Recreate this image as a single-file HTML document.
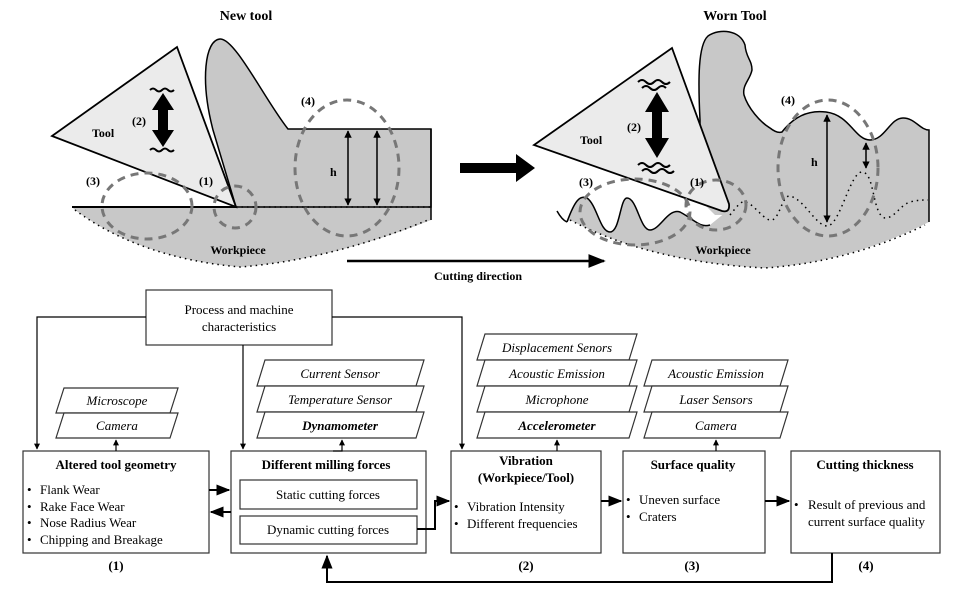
<!DOCTYPE html>
<html><head><meta charset="utf-8"><style>
html,body{margin:0;padding:0;background:#fff}
svg{display:block}
text{font-family:"Liberation Serif",serif;fill:#000}
.b{font-weight:bold}
.it{font-style:italic}
</style></head><body>
<svg width="967" height="592" viewBox="0 0 967 592" xmlns="http://www.w3.org/2000/svg">
<defs>
<marker id="a" viewBox="0 0 10 10" refX="9" refY="5" markerWidth="7" markerHeight="7" orient="auto-start-reverse"><path d="M0,1 L10,5 L0,9 Z" fill="#000"/></marker>
<marker id="s" viewBox="0 0 10 10" refX="9" refY="5" markerWidth="5" markerHeight="5" orient="auto-start-reverse"><path d="M0,0 L10,5 L0,10 Z" fill="#000"/></marker>
</defs>

<!-- NEW TOOL -->
<text x="246" y="20" font-size="14" class="b" text-anchor="middle">New tool</text>
<path d="M72,207 L236,207 L431,207 L431,220 Q330,260 240,267 Q140,258 75,210 Z" fill="#c8c8c8"/>
<path d="M75,210 Q140,258 240,267 Q330,260 428,220" fill="none" stroke="#000" stroke-width="1.5" stroke-dasharray="1.5,4"/>
<path d="M236,207 L213,130 C200,80 205,40 220,39 C235,38 265,100 288,129 L431,129 L431,207 Z" fill="#c8c8c8" stroke="#000" stroke-width="1.5"/>
<line x1="236" y1="207" x2="431" y2="207" stroke="#000" stroke-width="1.5" stroke-dasharray="1.5,4"/>
<line x1="431" y1="129" x2="431" y2="220" stroke="#000" stroke-width="1.5"/>
<line x1="72" y1="207" x2="236" y2="207" stroke="#000" stroke-width="2"/>
<polygon points="52,136 177,47 236,207" fill="#ebebeb" stroke="#000" stroke-width="1.8"/>
<polygon points="163,93 174,110 168,110 168,130 174,130 163,147 152,130 158,130 158,110 152,110" fill="#000"/>
<path d="M150,90 q3,-3 6,0 t6,0 t6,0 t6,0" fill="none" stroke="#000" stroke-width="2"/>
<path d="M150,150 q3,-3 6,0 t6,0 t6,0 t6,0" fill="none" stroke="#000" stroke-width="2"/>
<g fill="none" stroke="#777" stroke-width="3" stroke-dasharray="8,6">
<ellipse cx="147" cy="206" rx="45" ry="33"/>
<ellipse cx="235" cy="207" rx="21" ry="21"/>
<ellipse cx="347" cy="168" rx="52" ry="68"/>
</g>
<line x1="348" y1="131" x2="348" y2="205" stroke="#000" stroke-width="1.5" marker-start="url(#s)" marker-end="url(#s)"/>
<line x1="377" y1="131" x2="377" y2="205" stroke="#000" stroke-width="1.5" marker-start="url(#s)" marker-end="url(#s)"/>
<g font-size="12" class="b">
<text x="330" y="176" class="b">h</text>
<text x="92" y="137" class="b">Tool</text>
<text x="132" y="125" class="b">(2)</text>
<text x="86" y="185" class="b">(3)</text>
<text x="199" y="185" class="b">(1)</text>
<text x="301" y="105" class="b">(4)</text>
<text x="238" y="254" class="b" text-anchor="middle">Workpiece</text>
</g>

<polygon points="460,163 516,163 516,154 535,168 516,182 516,173 460,173" fill="#000"/>
<line x1="347" y1="261" x2="604" y2="261" stroke="#000" stroke-width="2.5" marker-end="url(#a)"/>
<text x="478" y="280" font-size="12" class="b" text-anchor="middle">Cutting direction</text>

<!-- WORN TOOL -->
<text x="735" y="20" font-size="14" class="b" text-anchor="middle">Worn Tool</text>
<path d="M567,222 C575,200 580,195 587,198 C597,205 600,232 610,232 C620,232 620,198 627,198 C637,198 640,230 650,230 C660,230 668,208 680,212 C695,220 700,228 710,225 L726,212 L929,215 L929,222 Q850,262 765,268 Q650,262 570,220 Z" fill="#c8c8c8"/>
<path d="M557,211 Q562,220 567,222" fill="none" stroke="#000" stroke-width="1.5"/>
<path d="M567,222 C575,200 580,195 587,198 C597,205 600,232 610,232 C620,232 620,198 627,198 C637,198 640,230 650,230 C660,230 668,208 680,212 C695,220 700,228 710,225" fill="none" stroke="#000" stroke-width="1.5"/>
<path d="M570,220 Q650,262 765,268 Q850,262 925,225" fill="none" stroke="#000" stroke-width="1.5" stroke-dasharray="1.5,4"/>
<path d="M715,215 L700,200 L700,120 C698,80 698,45 708,36 C720,28 740,30 745,45 C746,58 752,60 752,70 C750,80 742,85 744,95 C748,108 760,122 770,128 C775,132 779,133 782,132 C795,115 810,110 826,112 C850,115 855,140 870,140 C885,140 890,118 903,118 C915,118 920,130 929,130 L929,222 L725,215 Z" fill="#c8c8c8"/>
<path d="M700,200 L700,120 C698,80 698,45 708,36 C720,28 740,30 745,45 C746,58 752,60 752,70 C750,80 742,85 744,95 C748,108 760,122 770,128 C775,132 779,133 782,132 C795,115 810,110 826,112 C850,115 855,140 870,140 C885,140 890,118 903,118 C915,118 920,130 929,130 L929,222" fill="none" stroke="#000" stroke-width="1.5"/>
<path d="M730,215 C738,205 742,200 746,202 C755,205 765,222 772,220 C780,218 782,195 790,196 C805,200 815,225 827,226 C840,226 850,172 862,172 C875,172 872,215 885,218 C895,218 900,205 910,202 C918,200 922,200 928,200" fill="none" stroke="#000" stroke-width="1.5" stroke-dasharray="1.5,4"/>
<path d="M534,145 L672,48 L729,204 Q730,213 722,211 Z" fill="#ebebeb" stroke="#000" stroke-width="1.8"/>
<polygon points="657,92 669,112 662,112 662,138 669,138 657,158 645,138 652,138 652,112 645,112" fill="#000"/>
<path d="M638,82 q4,-4 8,0 t8,0 t8,0 t8,0 M642,88 q4,-4 8,0 t8,0 t8,0" fill="none" stroke="#000" stroke-width="2"/>
<path d="M638,165 q4,-4 8,0 t8,0 t8,0 t8,0 M642,171 q4,-4 8,0 t8,0 t8,0 t8,0" fill="none" stroke="#000" stroke-width="2"/>
<g fill="none" stroke="#777" stroke-width="3" stroke-dasharray="8,6">
<ellipse cx="635" cy="212" rx="55" ry="33"/>
<ellipse cx="716" cy="205" rx="30" ry="25"/>
<ellipse cx="828" cy="168" rx="50" ry="68"/>
</g>
<line x1="827" y1="115" x2="827" y2="222" stroke="#000" stroke-width="1.5" marker-start="url(#s)" marker-end="url(#s)"/>
<line x1="866" y1="143" x2="866" y2="168" stroke="#000" stroke-width="1.5" marker-start="url(#s)" marker-end="url(#s)"/>
<g font-size="12">
<text x="811" y="166" class="b">h</text>
<text x="580" y="144" class="b">Tool</text>
<text x="627" y="131" class="b">(2)</text>
<text x="579" y="186" class="b">(3)</text>
<text x="690" y="186" class="b">(1)</text>
<text x="781" y="104" class="b">(4)</text>
<text x="723" y="254" class="b" text-anchor="middle">Workpiece</text>
</g>

<!-- FLOWCHART -->
<g fill="#fff" stroke="#333" stroke-width="1.2">
<rect x="146" y="290" width="186" height="55"/>
<rect x="23" y="451" width="186" height="102"/>
<rect x="231" y="451" width="195" height="102"/>
<rect x="240" y="480" width="177" height="29"/>
<rect x="240" y="516" width="177" height="28"/>
<rect x="451" y="451" width="150" height="102"/>
<rect x="623" y="451" width="142" height="102"/>
<rect x="791" y="451" width="149" height="102"/>
<polygon points="64,388 178,388 170,413 56,413"/>
<polygon points="64,413 178,413 170,438 56,438"/>
<polygon points="265,360 424,360 416,386 257,386"/>
<polygon points="265,386 424,386 416,412 257,412"/>
<polygon points="265,412 424,412 416,438 257,438"/>
<polygon points="485,334 637,334 629,360 477,360"/>
<polygon points="485,360 637,360 629,386 477,386"/>
<polygon points="485,386 637,386 629,412 477,412"/>
<polygon points="485,412 637,412 629,438 477,438"/>
<polygon points="652,360 788,360 780,386 644,386"/>
<polygon points="652,386 788,386 780,412 644,412"/>
<polygon points="652,412 788,412 780,438 644,438"/>
</g>
<g fill="none" stroke="#000" stroke-width="1.2">
<path d="M146,317 H37 V449" marker-end="url(#s)"/>
<path d="M332,317 H462 V449" marker-end="url(#s)"/>
<path d="M243,345 V449" marker-end="url(#s)"/>
<path d="M116,451 V440" marker-end="url(#s)"/>
<path d="M333,451 H342 V440" marker-end="url(#s)"/>
<path d="M557,451 V440" marker-end="url(#s)"/>
<path d="M716,451 V440" marker-end="url(#s)"/>
</g>
<g fill="none" stroke="#000" stroke-width="2">
<path d="M209,490 H229" marker-end="url(#a)"/>
<path d="M231,512 H211" marker-end="url(#a)"/>
<path d="M417,529 H435 V501 H449" marker-end="url(#a)"/>
<path d="M601,501 H621" marker-end="url(#a)"/>
<path d="M765,501 H789" marker-end="url(#a)"/>
<path d="M832,553 V582 H327 V556" marker-end="url(#a)"/>
</g>
<g font-size="13">
<text x="239" y="314" text-anchor="middle">Process and machine</text>
<text x="239" y="331" text-anchor="middle">characteristics</text>
<text x="116" y="469" text-anchor="middle" class="b">Altered tool geometry</text>
<text x="27" y="494">•</text><text x="40" y="494">Flank Wear</text>
<text x="27" y="511">•</text><text x="40" y="511">Rake Face Wear</text>
<text x="27" y="527">•</text><text x="40" y="527">Nose Radius Wear</text>
<text x="27" y="544">•</text><text x="40" y="544">Chipping and Breakage</text>
<text x="326" y="469" text-anchor="middle" class="b">Different milling forces</text>
<text x="328" y="499" text-anchor="middle">Static cutting forces</text>
<text x="328" y="534" text-anchor="middle">Dynamic cutting forces</text>
<text x="526" y="465" text-anchor="middle" class="b">Vibration</text>
<text x="526" y="482" text-anchor="middle" class="b">(Workpiece/Tool)</text>
<text x="454" y="511">•</text><text x="467" y="511">Vibration Intensity</text>
<text x="454" y="528">•</text><text x="467" y="528">Different frequencies</text>
<text x="693" y="469" text-anchor="middle" class="b">Surface quality</text>
<text x="626" y="504">•</text><text x="639" y="504">Uneven surface</text>
<text x="626" y="521">•</text><text x="639" y="521">Craters</text>
<text x="865" y="469" text-anchor="middle" class="b">Cutting thickness</text>
<text x="794" y="509">•</text><text x="808" y="509">Result of previous and</text>
<text x="808" y="526">current surface quality</text>
<text x="116" y="570" text-anchor="middle" class="b">(1)</text>
<text x="526" y="570" text-anchor="middle" class="b">(2)</text>
<text x="692" y="570" text-anchor="middle" class="b">(3)</text>
<text x="866" y="570" text-anchor="middle" class="b">(4)</text>
</g>
<g font-size="13" class="it" text-anchor="middle">
<text x="117" y="405">Microscope</text>
<text x="117" y="430">Camera</text>
<text x="340" y="378">Current Sensor</text>
<text x="340" y="404">Temperature Sensor</text>
<text x="340" y="430" class="b">Dynamometer</text>
<text x="557" y="352">Displacement Senors</text>
<text x="557" y="378">Acoustic Emission</text>
<text x="557" y="404">Microphone</text>
<text x="557" y="430" class="b">Accelerometer</text>
<text x="716" y="378">Acoustic Emission</text>
<text x="716" y="404">Laser Sensors</text>
<text x="716" y="430">Camera</text>
</g>
</svg>
</body></html>
